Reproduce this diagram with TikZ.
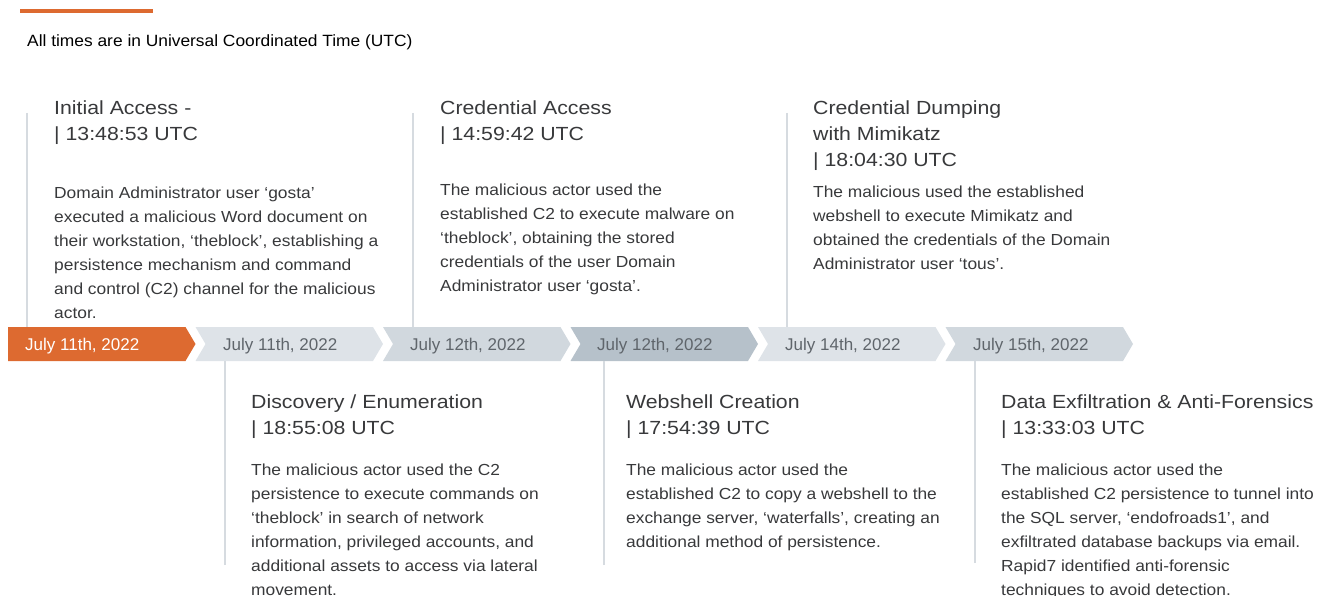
\documentclass[tikz,border=0pt]{standalone}
\usepackage{fontspec}
\setmainfont{Liberation Sans}
\newfontfamily\headfont[FakeStretch=1.12]{Liberation Sans}
\newfontfamily\eventfont[FakeStretch=1.085]{Liberation Sans}
\newfontfamily\notefont[FakeStretch=1.065]{Liberation Sans}
\usepackage{xcolor}
\usepackage{tikz}
\usetikzlibrary{positioning}

\definecolor{rorange}{HTML}{DD6A30}
\definecolor{chevA}{HTML}{DEE3E8}
\definecolor{chevB}{HTML}{D1D8DE}
\definecolor{chevC}{HTML}{B6C1CA}
\definecolor{dategray}{HTML}{5F656B}
\definecolor{inkgray}{HTML}{38393B}
\definecolor{stemgray}{HTML}{D6DBE0}

\tikzset{
    stem/.style={draw=stemgray, line width=2pt},
    evtitle/.style={anchor=north west, inner sep=0pt, align=left, text=inkgray,
        font=\headfont\fontsize{19}{26}\selectfont},
    evtext/.style={anchor=north west, inner sep=0pt, align=left, text=inkgray,
        font=\eventfont\fontsize{16}{24}\selectfont},
    datelabel/.style={anchor=base west, inner sep=0pt, text=dategray,
        font=\fontsize{17}{20}\selectfont},
}

\begin{document}
\begin{tikzpicture}[x=1pt, y=-1pt]
        \def\yt{327}
        \def\yb{361}
        \def\w{177.5}
        \def\p{10}
        \def\hh{17}

        \useasboundingbox (0,0) rectangle (1322,596);

        % Header
        \draw[rorange, line width=4pt] (20,11) -- (153,11);
        \node[anchor=base west, inner sep=0pt, font=\notefont\fontsize{16.3}{20}\selectfont] (note) at (27,46.5) {All times are in Universal Coordinated Time (UTC)};

        % Date band
        \coordinate (bandtop) at (0,\yt);
        \coordinate (bandbot) at (0,\yb);
        \fill[rorange] (8,\yt) -- ++(\w,0) -- ++(\p,\hh) -- ++(-\p,\hh) -- ++(-\w,0) -- cycle;
        \fill[chevA] (195.5,\yt) -- ++(\w,0) -- ++(\p,\hh) -- ++(-\p,\hh) -- ++(-\w,0) -- ++(\p,-\hh) -- cycle;
        \fill[chevB] (383,\yt) -- ++(\w,0) -- ++(\p,\hh) -- ++(-\p,\hh) -- ++(-\w,0) -- ++(\p,-\hh) -- cycle;
        \fill[chevC] (570.5,\yt) -- ++(\w,0) -- ++(\p,\hh) -- ++(-\p,\hh) -- ++(-\w,0) -- ++(\p,-\hh) -- cycle;
        \fill[chevA] (758,\yt) -- ++(\w,0) -- ++(\p,\hh) -- ++(-\p,\hh) -- ++(-\w,0) -- ++(\p,-\hh) -- cycle;
        \fill[chevB] (945.5,\yt) -- ++(\w,0) -- ++(\p,\hh) -- ++(-\p,\hh) -- ++(-\w,0) -- ++(\p,-\hh) -- cycle;

        \node[datelabel, text=white] (d1) at (25,350.5) {July 11th, 2022};
        \node[datelabel] (d2) at (223,350.5) {July 11th, 2022};
        \node[datelabel] (d3) at (410,350.5) {July 12th, 2022};
        \node[datelabel] (d4) at (597,350.5) {July 12th, 2022};
        \node[datelabel] (d5) at (785,350.5) {July 14th, 2022};
        \node[datelabel] (d6) at (973,350.5) {July 15th, 2022};

        % Stems
        \coordinate (s1) at (27,113);
        \coordinate (s2) at (413,113);
        \coordinate (s3) at (787,113);
        \coordinate (s4) at (224.5,565);
        \coordinate (s5) at (603.5,565);
        \coordinate (s6) at (975,563);
        \draw[stem] (s1) -- (s1 |- bandtop);
        \draw[stem] (s2) -- (s2 |- bandtop);
        \draw[stem] (s3) -- (s3 |- bandtop);
        \draw[stem] (s4) -- (s4 |- bandbot);
        \draw[stem] (s5) -- (s5 |- bandbot);
        \draw[stem] (s6) -- (s6 |- bandbot);

        % Events above the band
        \node[evtitle] (e1) at (54,101) {Initial Access -\\| 13:48:53 UTC};
        \node[evtext] (b1) at (54,186.3) {Domain Administrator user ‘gosta’\\executed a malicious Word document on\\their workstation, ‘theblock’, establishing a\\persistence mechanism and command\\and control (C2) channel for the malicious\\actor.};

        \node[evtitle] (e2) at (440,101) {Credential Access\\| 14:59:42 UTC};
        \node[evtext] (b2) at (440,183.3) {The malicious actor used the\\established C2 to execute malware on\\‘theblock’, obtaining the stored\\credentials of the user Domain\\Administrator user ‘gosta’.};

        \node[evtitle] (e3) at (813,101) {Credential Dumping\\with Mimikatz\\| 18:04:30 UTC};
        \node[evtext] (b3) at (813,185.3) {The malicious used the established\\webshell to execute Mimikatz and\\obtained the credentials of the Domain\\Administrator user ‘tous’.};

        % Events below the band
        \node[evtitle] (e4) at (251,395) {Discovery / Enumeration\\| 18:55:08 UTC};
        \node[evtext] (b4) at (251,463.3) {The malicious actor used the C2\\persistence to execute commands on\\‘theblock’ in search of network\\information, privileged accounts, and\\additional assets to access via lateral\\movement.};

        \node[evtitle] (e5) at (626,395) {Webshell Creation\\| 17:54:39 UTC};
        \node[evtext] (b5) at (626,463.3) {The malicious actor used the\\established C2 to copy a webshell to the\\exchange server, ‘waterfalls’, creating an\\additional method of persistence.};

        \node[evtitle] (e6) at (1001,395) {Data Exfiltration \& Anti-Forensics\\| 13:33:03 UTC};
        \node[evtext] (b6) at (1001,463.3) {The malicious actor used the\\established C2 persistence to tunnel into\\the SQL server, ‘endofroads1’, and\\exfiltrated database backups via email.\\Rapid7 identified anti-forensic\\techniques to avoid detection.};
\end{tikzpicture}
\end{document}
